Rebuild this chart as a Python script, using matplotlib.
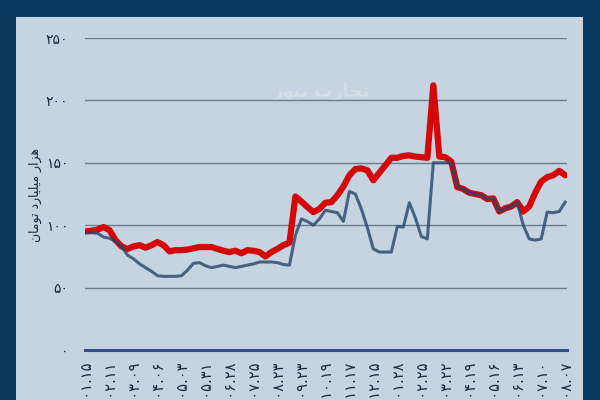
import matplotlib
matplotlib.use('Agg')
from matplotlib import pyplot as plt
from matplotlib.patches import Rectangle

# weekly values, thousand billion toman
red = [95, 95.5, 96.5, 98.5, 96, 88, 83, 81, 83, 84,
       82, 84, 86.5, 84, 79, 80, 80, 80.5, 81.5, 82.5,
       82.5, 82.5, 81, 79.5, 78.5, 79.5, 77.5, 80, 79.5, 78.5,
       75, 78.5, 81, 84, 86, 123, 119, 114.5, 110.5, 113,
       118, 118.5, 124, 131, 140, 145, 145.5, 144, 136, 142,
       148, 154, 154, 155.5, 156, 155, 154.5, 154, 212, 155,
       154.5, 151, 130.5, 129, 126, 125, 124, 121, 121.5, 111,
       113.5, 115, 118.5, 111, 115, 126, 135, 138.5, 140, 143.5,
       140]
blue = [94, 94, 93.5, 90.5, 89.5, 87, 83, 76, 73, 69,
        66, 63, 59.5, 59, 59, 59, 59.5, 64, 69.5, 70,
        67.5, 66, 67, 68, 67, 66, 67, 68, 69, 70.5,
        70.5, 70.5, 70, 68.5, 68, 92, 105, 103, 100, 105,
        112, 111, 110, 103, 127, 125, 113, 98, 81, 78.5,
        78.5, 78.5, 99, 98.5, 118, 106, 91, 89, 150, 150,
        150, 150, 130.5, 129, 126, 125, 124, 121, 121.5, 111,
        113.5, 115, 118.5, 100, 89, 88, 89, 110.5, 110, 111,
        118.5]

date_labels = ['۱۴۰۱.۰۱.۱۵', '۱۴۰۱.۰۲.۱۱', '۱۴۰۱.۰۳.۰۹', '۱۴۰۱.۰۴.۰۶',
               '۱۴۰۱.۰۵.۰۳', '۱۴۰۱.۰۵.۳۱', '۱۴۰۱.۰۶.۲۸', '۱۴۰۱.۰۷.۲۵',
               '۱۴۰۱.۰۸.۲۳', '۱۴۰۱.۰۹.۲۳', '۱۴۰۱.۱۰.۱۹', '۱۴۰۱.۱۱.۱۷',
               '۱۴۰۱.۱۲.۱۵', '۱۴۰۲.۰۱.۲۸', '۱۴۰۲.۰۲.۲۵', '۱۴۰۲.۰۳.۲۲',
               '۱۴۰۲.۰۴.۱۹', '۱۴۰۲.۰۵.۱۶', '۱۴۰۲.۰۶.۱۳', '۱۴۰۲.۰۷.۱۰',
               '۱۴۰۲.۰۸.۰۷']
y_ticks = [0, 50, 100, 150, 200, 250]
y_labels = ['۰', '۵۰', '۱۰۰', '۱۵۰', '۲۰۰', '۲۵۰']

# "هزار میلیارد تومان" in presentation forms, visual order (no shaping in matplotlib)
ylab = '\ufeeb\ufeb0\ufe8d\ufead \ufee3\ufef4\ufee0\ufef4\ufe8e\ufead\ufea9 \ufe97\ufeee\ufee3\ufe8e\ufee5'[::-1]
# "تجارت نیوز" watermark
mark = '\ufe97\ufea0\ufe8e\ufead\ufe95 \ufee7\ufef4\ufeee\ufeaf'[::-1]

plt.rcParams['font.family'] = ['DejaVu Sans']

fig = plt.figure(figsize=(6, 4), dpi=100)
fig.patch.set_facecolor('#0d3a60')
fig.patches.append(Rectangle((16 / 600, 0), 567 / 600, 383 / 400,
                             transform=fig.transFigure, facecolor='#c6d3e0',
                             edgecolor='none', zorder=-2))
fig.text(0.535, 0.77, mark, color='white', alpha=0.25, fontsize=13,
         fontweight='bold', ha='center', va='center', zorder=-1)

ax = fig.add_axes([85 / 600, 0.125, 482 / 600, 0.78])
ax.set_facecolor('none')

x = list(range(len(red)))
ax.plot(x, red, color='#d40808', lw=4.5, solid_capstyle='round', zorder=3)
ax.plot(x, blue, color='#27466a', lw=2.2, alpha=0.8, zorder=4)

ax.set_xlim(-0.1, 80.3)
ax.set_ylim(0, 250)
ax.set_yticks(y_ticks)
ax.set_yticklabels(y_labels, fontsize=10, color='#1b2a40')
ax.set_xticks(range(0, 81, 4))
ax.set_xticklabels(date_labels, rotation=90, fontsize=10.5, color='#1b2a40',
                   va='top', ha='center')
ax.tick_params(length=0)
ax.tick_params(axis='y', pad=12)
ax.tick_params(axis='x', pad=7)

for t in y_ticks[1:]:
    ax.axhline(t, color='#6c7e92', lw=1, zorder=1)
for s in ['top', 'right', 'left']:
    ax.spines[s].set_visible(False)
ax.spines['bottom'].set_color('#33508c')
ax.spines['bottom'].set_linewidth(2.2)

fig.text(35 / 600, 1 - 195 / 400, ylab, rotation=90, fontsize=9,
         color='#1b2a40', ha='center', va='center')

fig.savefig('out.png', dpi=100, facecolor=fig.get_facecolor())
